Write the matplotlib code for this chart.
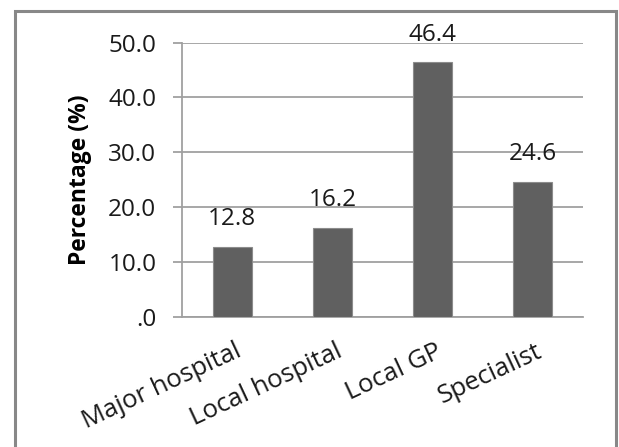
import matplotlib
matplotlib.use("Agg")
import matplotlib.pyplot as plt
from matplotlib.patches import Rectangle
from matplotlib import transforms

categories = ["Major hospital", "Local hospital", "Local GP", "Specialist"]
values = [12.8, 16.2, 46.4, 24.6]
y_ticks = [0, 10, 20, 30, 40, 50]
y_tick_labels = [".0", "10.0", "20.0", "30.0", "40.0", "50.0"]

W, H, DPI = 619, 447, 100
plt.rcParams["font.family"] = ["Open Sans", "DejaVu Sans"]

fig = plt.figure(figsize=(W / DPI, H / DPI), dpi=DPI)
ax = fig.add_axes([182 / W, 1 - 316.7 / H, (583 - 182) / W, (316.7 - 42.5) / H])

grid_c = "#a0a0a0"
bar_c = "#606060"
text_c = "#1a1a1a"

x = list(range(len(categories)))
ax.bar(x, values, width=0.39, color=bar_c, edgecolor="#8c8c8c", linewidth=0.8, zorder=3)
ax.set_xlim(-0.5, len(categories) - 0.5)
ax.set_ylim(0, 50)

ax.set_yticks(y_ticks)
ax.set_yticklabels(y_tick_labels)
ax.yaxis.grid(True, color=grid_c, linewidth=1.3, zorder=0)
ax.set_axisbelow(True)
ax.tick_params(axis="y", length=6.5, width=1.3, color=grid_c, pad=12,
               labelsize=17.5, labelcolor=text_c)
ax.tick_params(axis="x", length=0, pad=16)

for side in ("top", "right"):
    ax.spines[side].set_visible(False)
for side in ("left", "bottom"):
    ax.spines[side].set_color(grid_c)
    ax.spines[side].set_linewidth(1.3)

ax.set_xticks(x)
ax.set_xticklabels(categories, rotation=25, ha="right", va="top",
                   rotation_mode="anchor", fontsize=18.5, color=text_c)
offset = transforms.ScaledTranslation(2 / 72, 0, fig.dpi_scale_trans)
for lbl in ax.get_xticklabels():
    lbl.set_transform(lbl.get_transform() + offset)

ax.set_ylabel("Percentage (%)", fontsize=16.5, fontweight="bold", color="black", labelpad=12)

for xi, v in zip(x, values):
    ax.annotate(f"{v:.1f}", (xi, v), xytext=(0, 15.5), textcoords="offset points",
                ha="center", va="baseline", fontsize=17.5, color=text_c)

# outer chart border
fig.patches.append(Rectangle((15 / W, -0.05), (616 - 15) / W, 1.05 - 11 / H,
                             transform=fig.transFigure, fill=False,
                             edgecolor="#888888", linewidth=2.2))

fig.savefig("out.png", dpi=DPI)
